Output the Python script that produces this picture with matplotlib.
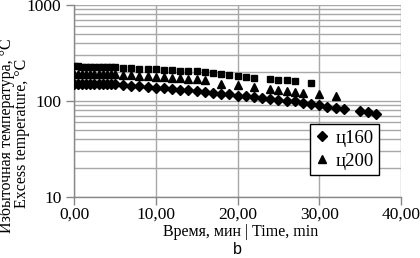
import matplotlib
matplotlib.use("Agg")
import matplotlib.pyplot as plt
import numpy as np
from matplotlib.ticker import FixedLocator, FuncFormatter, NullFormatter

# ---- data ----
t_dense = [0, 0.5, 1, 1.5, 2, 2.5, 3, 3.5, 4, 4.5, 5]

t160 = t_dense + [6, 7, 8, 9, 10, 11, 12, 13, 14, 15, 16, 17, 18, 19, 20, 21, 22, 23,
                  24, 25, 26, 27, 28, 29, 30, 31, 32, 33, 35, 36, 37]
v160 = [152, 151, 151, 150, 150, 150, 150, 150, 149, 149, 149,
        148, 145, 143, 140, 138, 136, 134, 131, 129, 126, 124, 121, 119, 117, 114,
        112, 110, 108, 106, 103, 101, 99, 96, 93, 90, 87, 84, 82, 79, 76, 74]

t200 = t_dense + [6, 7, 8, 9, 10, 11, 12, 13, 14, 15, 16, 18, 20, 22, 24, 25, 26, 27,
                  28, 30, 32]
v200 = [193, 193, 192, 192, 192, 191, 191, 191, 190, 190, 190,
        188, 186, 184, 181, 179, 177, 175, 172, 170, 168, 165, 150, 147, 139, 134,
        130, 127, 125, 122, 118, 113]

t250 = t_dense + [6, 7, 8, 9, 10, 11, 12, 13, 14, 15, 16, 17, 18, 19, 20, 21, 22,
                  24, 25, 26, 27, 29]
v250 = [229, 229, 228, 228, 228, 227, 227, 227, 226, 226, 225,
        222, 220, 218, 216, 214, 212, 210, 207, 205, 203, 200, 195, 191, 185, 180,
        178, 175, 170, 167, 164, 162, 155]

labels = ["ц160", "ц200"]
xticks = [0, 10, 20, 30, 40]
yticks = [10, 100, 1000]

# ---- figure ----
fig = plt.figure(figsize=(4.2, 2.58), dpi=100)
ax = fig.add_axes([74/420, 1-197/258, (401-74)/420, (197-5)/258])

serif = "Liberation Serif"
ax.plot(t160, v160, linestyle="none", marker="D", ms=5.0, color="black", label=labels[0], zorder=3)
ax.plot(t200, v200, linestyle="none", marker="^", ms=6.2, color="black", label=labels[1], zorder=3)
ax.plot(t250, v250, linestyle="none", marker="s", ms=5.0, color="black", zorder=3)

ax.set_yscale("log")
ax.set_ylim(10, 1000)
ax.set_xlim(0, 40)

ax.xaxis.set_major_locator(FixedLocator(xticks))
ax.xaxis.set_major_formatter(FuncFormatter(lambda v, p: f"{v:.2f}".replace(".", ",")))
ax.yaxis.set_major_locator(FixedLocator(yticks))
ax.yaxis.set_major_formatter(FuncFormatter(lambda v, p: f"{int(round(v))}"))
ax.yaxis.set_minor_formatter(NullFormatter())

grid_c = "#a8a8a8"
ax.grid(True, which="major", axis="both", color=grid_c, lw=1.0)
ax.grid(True, which="minor", axis="y", color=grid_c, lw=1.0)
ax.tick_params(axis="both", which="minor", length=0)
ax.tick_params(axis="both", which="major", length=6, color="#888888", width=1.0,
               labelsize=12.5, direction="out")
for lab in ax.get_xticklabels() + ax.get_yticklabels():
    lab.set_fontfamily(serif)
ax.tick_params(axis="x", pad=1)
ax.tick_params(axis="y", pad=3)

for s in ["top", "right"]:
    ax.spines[s].set_visible(False)
for s in ["left", "bottom"]:
    ax.spines[s].set_color("#888888")
    ax.spines[s].set_linewidth(1.0)

leg = ax.legend(loc="upper left", bbox_to_anchor=((310-74)/327, 1-(124-5)/192),
                prop={"family": serif, "size": 13.5}, frameon=True, fancybox=False,
                edgecolor="black", handlelength=0.7, handletextpad=0.35,
                borderpad=0.3, labelspacing=0.3, borderaxespad=0)
leg.get_frame().set_linewidth(1.0)
leg.get_frame().set_alpha(1)

fig.text(7/420, 1-136/258, "Избыточная температура, °C", rotation=90, ha="center",
         va="center", family=serif, fontsize=11.5)
fig.text(22.5/420, 1-133/258, "Excess temperature, °C", rotation=90, ha="center",
         va="center", family=serif, fontsize=11.5)
fig.text(241/420, 1-232/258, "Время, мин | Time, min", ha="center", va="center",
         family=serif, fontsize=11.5)
fig.text(237/420, 1-250/258, "b", ha="center", va="center",
         family="Liberation Sans", fontsize=11.5)

fig.savefig("out.png", dpi=100)
